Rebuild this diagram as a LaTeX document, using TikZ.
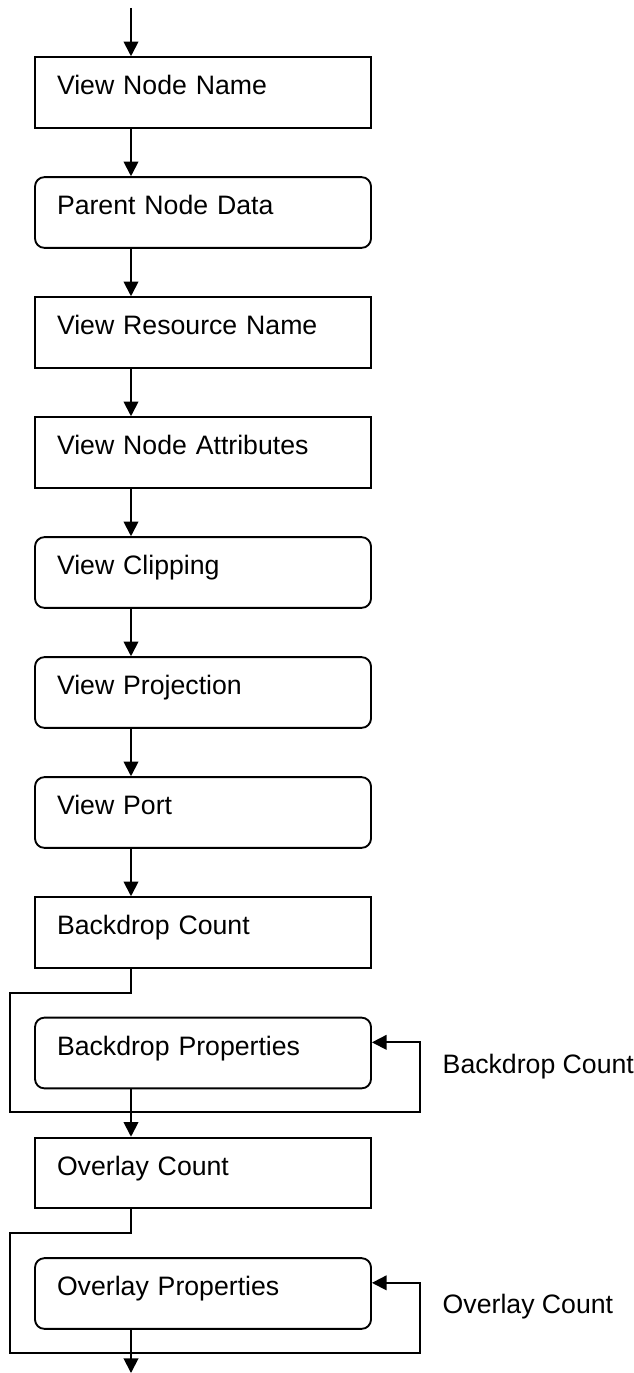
\documentclass[tikz,border=0pt]{standalone}
\usepackage{fontspec}
\setmainfont{Liberation Sans}
\usetikzlibrary{arrows.meta, calc}
\tikzstyle{block} = [rectangle, draw=black, line width=1.4pt, inner xsep=16.5pt, inner ysep=0pt, text width=219pt, align=left, text height=28pt, text depth=25pt, font=\fontsize{20}{24}\selectfont]
\tikzstyle{rblock} = [block, rounded corners=7pt]
\tikzstyle{arrow} = [line width=1.4pt,-{Triangle[length=11pt,width=11pt]}]

\begin{document}
\begin{tikzpicture}[x=0.75pt, y=-0.75pt]
	\useasboundingbox (0,0) rectangle (634,1373);
	\coordinate (spine) at (131,8);
	\coordinate (finish) at (131,1373);

	\node[block] (vname) at (203,92.5) {View Node Name};
	\node[rblock] (pdata) at (203,212.5) {Parent Node Data};
	\node[block] (vres) at (203,332.5) {View Resource Name};
	\node[block] (vattr) at (203,452.5) {View Node Attributes};
	\node[rblock] (vclip) at (203,572.5) {View Clipping};
	\node[rblock] (vproj) at (203,692.5) {View Projection};
	\node[rblock] (vport) at (203,812.5) {View Port};
	\node[block] (bcount) at (203,932.5) {Backdrop Count};
	\node[rblock] (bprops) at (203,1053) {Backdrop Properties};
	\node[block] (ocount) at (203,1173) {Overlay Count};
	\node[rblock] (oprops) at (203,1293.5) {Overlay Properties};

	% Labels
	\node[anchor=west, font=\fontsize{20}{24}\selectfont] (blbl) at (438,1067) {Backdrop Count};
	\node[anchor=west, font=\fontsize{20}{24}\selectfont] (olbl) at (438,1307) {Overlay Count};

	\draw[arrow] (spine) -- (vname.north -| spine);
	\foreach \a/\b in {vname/pdata, pdata/vres, vres/vattr, vattr/vclip, vclip/vproj, vproj/vport, vport/bcount, bprops/ocount}
		\draw[arrow] (\a.south -| spine) -- (\b.north -| spine);

	% count loops
	\draw[arrow] (bcount.south -| spine) |- (10,993) |- (420,1112) |- ([yshift=8pt]bprops.east);
	\draw[arrow] (ocount.south -| spine) |- (10,1233) |- (420,1353) |- ([yshift=8pt]oprops.east);
	\draw[arrow] (oprops.south -| spine) -- (finish);
\end{tikzpicture}
\end{document}
